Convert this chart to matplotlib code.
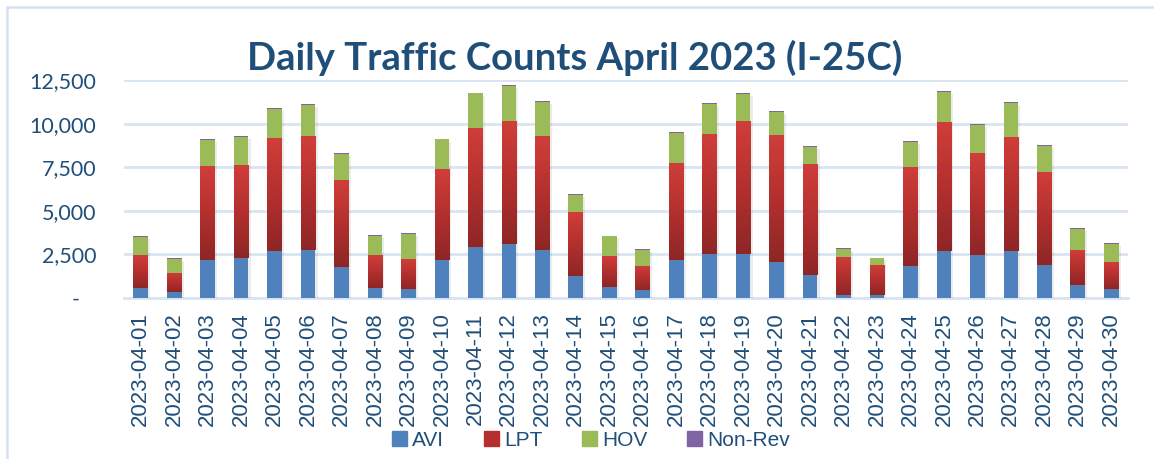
import matplotlib
matplotlib.use("Agg")
import matplotlib.pyplot as plt
import numpy as np
from matplotlib.patches import Rectangle, Patch
from matplotlib import patheffects as pe
from matplotlib.colors import LinearSegmentedColormap
from matplotlib.ticker import FuncFormatter

dates = ["2023-04-%02d" % d for d in range(1, 31)]
avi = [600, 340, 2190, 2320, 2700, 2780, 1790, 600, 530, 2170,
       2930, 3090, 2750, 1290, 630, 460, 2170, 2550, 2550, 2040,
       1320, 170, 150, 1810, 2720, 2440, 2720, 1900, 720, 530]
lpt = [1840, 1120, 5360, 5300, 6450, 6500, 4960, 1870, 1720, 5220,
       6830, 7050, 6530, 3650, 1790, 1390, 5570, 6850, 7590, 7320,
       6360, 2190, 1760, 5720, 7360, 5850, 6500, 5340, 2040, 1530]
hov = [1080, 800, 1520, 1620, 1680, 1790, 1520, 1100, 1410, 1700,
       1970, 2040, 1960, 990, 1140, 930, 1700, 1730, 1560, 1320,
       990, 460, 360, 1430, 1730, 1640, 1950, 1490, 1220, 1030]
nonrev = [50, 40, 50, 50, 50, 50, 50, 50, 50, 50,
          50, 50, 50, 50, 20, 40, 50, 50, 50, 50,
          50, 20, 40, 50, 50, 50, 50, 50, 50, 50]
yticks = [0, 2500, 5000, 7500, 10000, 12500]

TXT = "#1F4E79"
W, H = 1154, 459
fig = plt.figure(figsize=(W / 100, H / 100), dpi=100)
ax = fig.add_axes([124 / W, 1 - 298 / H, (1128 - 124) / W, (298 - 80) / H])

# chart border
fig.patches.append(Rectangle((7 / W, -0.05), 1.1, 1 - 7 / H + 0.05, transform=fig.transFigure,
                             fill=False, edgecolor="#D6E2F2", linewidth=1.8, clip_on=False))

x = np.arange(len(dates))
bw = 0.44
shadow = [pe.SimplePatchShadow(offset=(1.5, -1.5), shadow_rgbFace="gray", alpha=0.15), pe.Normal()]

avi_a = np.array(avi); lpt_a = np.array(lpt); hov_a = np.array(hov); nr_a = np.array(nonrev)
b1 = ax.bar(x, avi_a, bw, color="#4F81BD", zorder=3, path_effects=shadow)
b2 = ax.bar(x, lpt_a, bw, bottom=avi_a, color="#C0392B", zorder=3, path_effects=shadow)
b3 = ax.bar(x, hov_a, bw, bottom=avi_a + lpt_a, color="#9BBB59", zorder=3, path_effects=shadow)
b4 = ax.bar(x, nr_a, bw, bottom=avi_a + lpt_a + hov_a, color="#8064A2", zorder=3)

# gradient fill on LPT bars
cmap = LinearSegmentedColormap.from_list("lpt", ["#8E2626", "#B3302E", "#D03E3A"])
grad = np.linspace(0, 1, 256).reshape(-1, 1)
for p in b2.patches:
    bx, by = p.get_x(), p.get_y()
    im = ax.imshow(grad, extent=[bx, bx + p.get_width(), by, by + p.get_height()],
                   origin="lower", aspect="auto", cmap=cmap, zorder=3.5)
    im.set_clip_path(p)

ax.set_xlim(-0.5, len(dates) - 0.5)
ax.set_ylim(0, 12500)
ax.set_yticks(yticks)
ax.yaxis.set_major_formatter(FuncFormatter(lambda v, _: "-   " if v == 0 else f"{int(v):,}"))
ax.set_xticks(x)
ax.set_xticklabels(dates, rotation=90, fontsize=16, color=TXT, family="Liberation Sans")
for lbl in ax.get_yticklabels():
    lbl.set_fontsize(15.5)
    lbl.set_color(TXT)
    lbl.set_family("Lato")
ax.tick_params(axis="both", length=0)
ax.tick_params(axis="x", pad=10.5)
ax.tick_params(axis="y", pad=20)
ax.grid(axis="y", color="#D9E4F2", linewidth=2, zorder=0)
ax.set_axisbelow(True)
for s in ["top", "right", "left"]:
    ax.spines[s].set_visible(False)
ax.spines["bottom"].set_color("#D9E4F2")
ax.spines["bottom"].set_linewidth(2)

fig.text(0.498, 1 - 58 / H, "Daily Traffic Counts April 2023 (I-25C)", ha="center", va="center",
         fontsize=27.5, fontweight="bold", color=TXT, family="Lato")

handles = [Patch(color="#4F81BD"), Patch(color="#B3302E"), Patch(color="#9BBB59"), Patch(color="#8064A2")]
fig.legend(handles, ["AVI", "LPT", "HOV", "Non-Rev"], loc="center", bbox_to_anchor=(0.512, 1 - 440 / H),
           ncol=4, frameon=False, prop={"family": "Liberation Sans", "size": 15},
           labelcolor=TXT, handlelength=0.72, handleheight=0.72, handletextpad=0.25, columnspacing=1.9)

fig.savefig("out.png", dpi=100)
